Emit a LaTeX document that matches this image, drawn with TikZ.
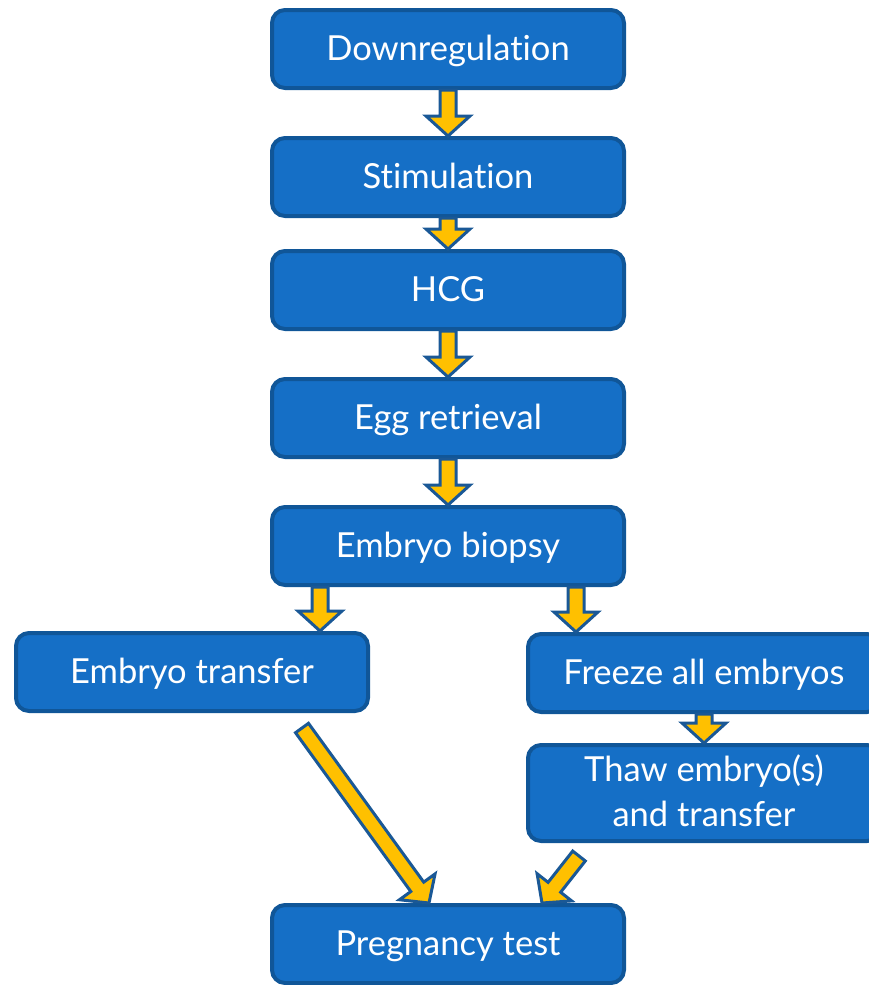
\documentclass[tikz,border=0pt]{standalone}
\usepackage{fontspec}
\setmainfont{Lato}[Ligatures={NoCommon,NoRare,NoContextual}]
\usetikzlibrary{calc}
\definecolor{boxfill}{RGB}{21,111,198}
\definecolor{boxline}{RGB}{16,86,152}
\definecolor{arrfill}{RGB}{255,192,0}
\definecolor{arrline}{RGB}{26,88,150}
\tikzset{
  box/.style={draw=boxline, line width=4pt, fill=boxfill, rounded corners=13pt,
    minimum width=352pt, minimum height=78pt, text=white, align=center,
    font=\fontsize{34.5}{45}\selectfont, inner sep=0pt,
    text height=22pt, text depth=0pt},
  barrow/.style={draw=arrline, fill=arrfill, line width=3pt, line join=miter}
}
\newcommand\blockarr[2]{%
  \coordinate (hh) at ($(#2)!20pt!(#1)$);
  \draw[barrow] ($(#1)!8pt!90:(#2)$) -- ($(hh)!8pt!90:(#2)$) -- ($(hh)!22pt!90:(#2)$)
    -- (#2) -- ($(hh)!22pt!-90:(#2)$) -- ($(hh)!8pt!-90:(#2)$) -- ($(#1)!8pt!-90:(#2)$) -- cycle;
}
\begin{document}
\begin{tikzpicture}[x=1pt,y=-1pt]
\useasboundingbox (0,0) rectangle (868,985);
\node[box] (dr) at (448,49) {Downregulation};
\node[box] (st) at (448,177) {Stimulation};
\node[box] (hcg) at (448,290) {HCG};
\node[box] (egg) at (448,418) {Egg retrieval};
\node[box] (eb) at (448,546) {Embryo biopsy};
\node[box] (et) at (192,672) {Embryo transfer};
\node[box] (fz) at (704,673) {Freeze all embryos};
\node[box, minimum height=96pt, text height=67pt] (th) at (704,793) {Thaw embryo(s)\\and transfer};
\node[box] (pt) at (448,944) {Pregnancy test};
\blockarr{dr.south}{st.north}
\blockarr{st.south}{hcg.north}
\blockarr{hcg.south}{egg.north}
\blockarr{egg.south}{eb.north}
\coordinate (b1) at ($(eb.south)+(-128,0)$);
\coordinate (b1e) at (b1 |- et.north);
\coordinate (b2) at ($(eb.south)+(128,0)$);
\coordinate (b2e) at (b2 |- fz.north);
\blockarr{b1}{b1e}
\blockarr{b2}{b2e}
\blockarr{fz.south}{th.north}
\coordinate (d1) at ($(et.south east)+(-68,15)$);
\coordinate (d1e) at ($(pt.north)+(-19,0)$);
\blockarr{d1}{d1e}
\coordinate (d2) at ($(th.south west)+(53,13)$);
\coordinate (d2e) at ($(pt.north east)+(-84,0)$);
\blockarr{d2}{d2e}
\end{tikzpicture}
\end{document}
